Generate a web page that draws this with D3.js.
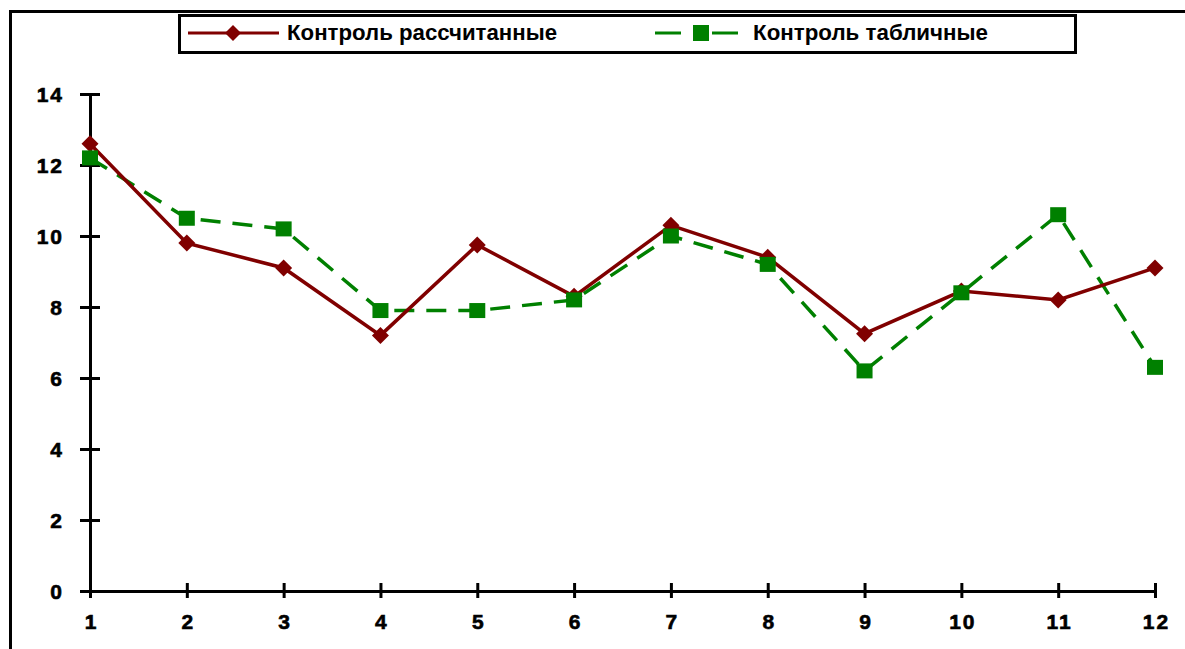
<!DOCTYPE html>
<html><head><meta charset="utf-8">
<script src="https://cdn.jsdelivr.net/npm/d3@7"></script>
<style>
html,body{margin:0;padding:0;background:#fff;}
svg{display:block;}
text{font-family:"Liberation Sans",Arial,sans-serif;font-weight:bold;fill:#000;}
</style></head>
<body>
<script>
const categories = [1,2,3,4,5,6,7,8,9,10,11,12];
const calculated = [12.6, 9.8, 9.1, 7.2, 9.75, 8.3, 10.3, 9.4, 7.25, 8.45, 8.2, 9.1];
const tabular = [12.2, 10.5, 10.2, 7.9, 7.9, 8.2, 10.0, 9.2, 6.2, 8.4, 10.6, 6.3];
const yTicks = [0,2,4,6,8,10,12,14];
const seriesNames = ["Контроль рассчитанные", "Контроль табличные"];

const W = 1185, H = 649;
const svg = d3.select("body").append("svg").attr("width", W).attr("height", H);

// outer frame (only top and left visible)
svg.append("line").attr("x1", 9).attr("x2", W).attr("y1", 11.5).attr("y2", 11.5)
  .attr("stroke", "#000").attr("stroke-width", 3);
svg.append("line").attr("x1", 10.5).attr("x2", 10.5).attr("y1", 10).attr("y2", H)
  .attr("stroke", "#000").attr("stroke-width", 3);

const x = d3.scaleLinear().domain([1, 12]).range([90, 1155]);
const y = d3.scaleLinear().domain([0, 14]).range([591, 94]);

// Y axis
const yAxis = svg.append("g").attr("transform", `translate(${x(1)},0)`)
  .call(d3.axisLeft(y).tickValues(yTicks).tickSizeOuter(0).tickSize(10).tickPadding(16));
yAxis.attr("font-size", 21).attr("font-family", null);
yAxis.select(".domain").attr("stroke", "#000").attr("stroke-width", 3);
yAxis.selectAll(".tick line").attr("x1", -10).attr("x2", 10).attr("stroke", "#000").attr("stroke-width", 3);
yAxis.selectAll(".tick text").style("font-size", "21px").attr("letter-spacing", 2).attr("dy", "0.36em")
  .attr("stroke", "#000").attr("stroke-width", 0.6);

// X axis
const xAxis = svg.append("g").attr("transform", `translate(0,${y(0)})`)
  .call(d3.axisBottom(x).tickValues(categories).tickFormat(d3.format("d")).tickSizeOuter(0).tickSize(7).tickPadding(0));
xAxis.attr("font-size", 21).attr("font-family", null);
xAxis.select(".domain").attr("stroke", "#000").attr("stroke-width", 3);
xAxis.selectAll(".tick line").attr("y1", -8).attr("y2", 7).attr("stroke", "#000").attr("stroke-width", 3);
xAxis.selectAll(".tick text").style("font-size", "21px").attr("letter-spacing", 2).attr("y", 38).attr("dy", 0)
  .attr("dx", 1).attr("stroke", "#000").attr("stroke-width", 0.6);

const line = d3.line().x((d, i) => x(categories[i])).y(d => y(d));

// tabular series (green dashed, squares)
svg.append("path").datum(tabular).attr("d", line).attr("fill", "none")
  .attr("stroke", "#008000").attr("stroke-width", 3.5).attr("stroke-dasharray", "20,12");
// calculated series (maroon, diamonds)
svg.append("path").datum(calculated).attr("d", line).attr("fill", "none")
  .attr("stroke", "#800000").attr("stroke-width", 3.5);

const diamond = (s) => `M0,${-s}L${s},0L0,${s}L${-s},0Z`;
svg.append("g").selectAll("path").data(calculated).join("path")
  .attr("transform", (d, i) => `translate(${x(categories[i])},${y(d)})`)
  .attr("d", diamond(8.5)).attr("fill", "#800000");
svg.append("g").selectAll("rect").data(tabular).join("rect")
  .attr("x", (d, i) => x(categories[i]) - 8).attr("y", d => y(d) - 7.5)
  .attr("width", 16).attr("height", 15).attr("fill", "#008000");

// legend
const lg = svg.append("g");
lg.append("rect").attr("x", 179.5).attr("y", 15.5).attr("width", 896).attr("height", 37)
  .attr("fill", "#fff").attr("stroke", "#000").attr("stroke-width", 3);
lg.append("line").attr("x1", 188).attr("x2", 279).attr("y1", 33).attr("y2", 33)
  .attr("stroke", "#800000").attr("stroke-width", 3);
lg.append("path").attr("transform", "translate(233,33)").attr("d", diamond(8)).attr("fill", "#800000");
lg.append("text").attr("x", 287).attr("y", 40).attr("font-size", 22)
  .attr("textLength", 270).attr("lengthAdjust", "spacingAndGlyphs").text(seriesNames[0]);
lg.append("line").attr("x1", 655).attr("x2", 749).attr("y1", 33).attr("y2", 33)
  .attr("stroke", "#008000").attr("stroke-width", 3).attr("stroke-dasharray", "26,11,0,20,26");
lg.append("rect").attr("x", 693).attr("y", 25).attr("width", 16).attr("height", 16).attr("fill", "#008000");
lg.append("text").attr("x", 753).attr("y", 40).attr("font-size", 22)
  .attr("textLength", 235).attr("lengthAdjust", "spacingAndGlyphs").text(seriesNames[1]);
</script>
</body></html>
